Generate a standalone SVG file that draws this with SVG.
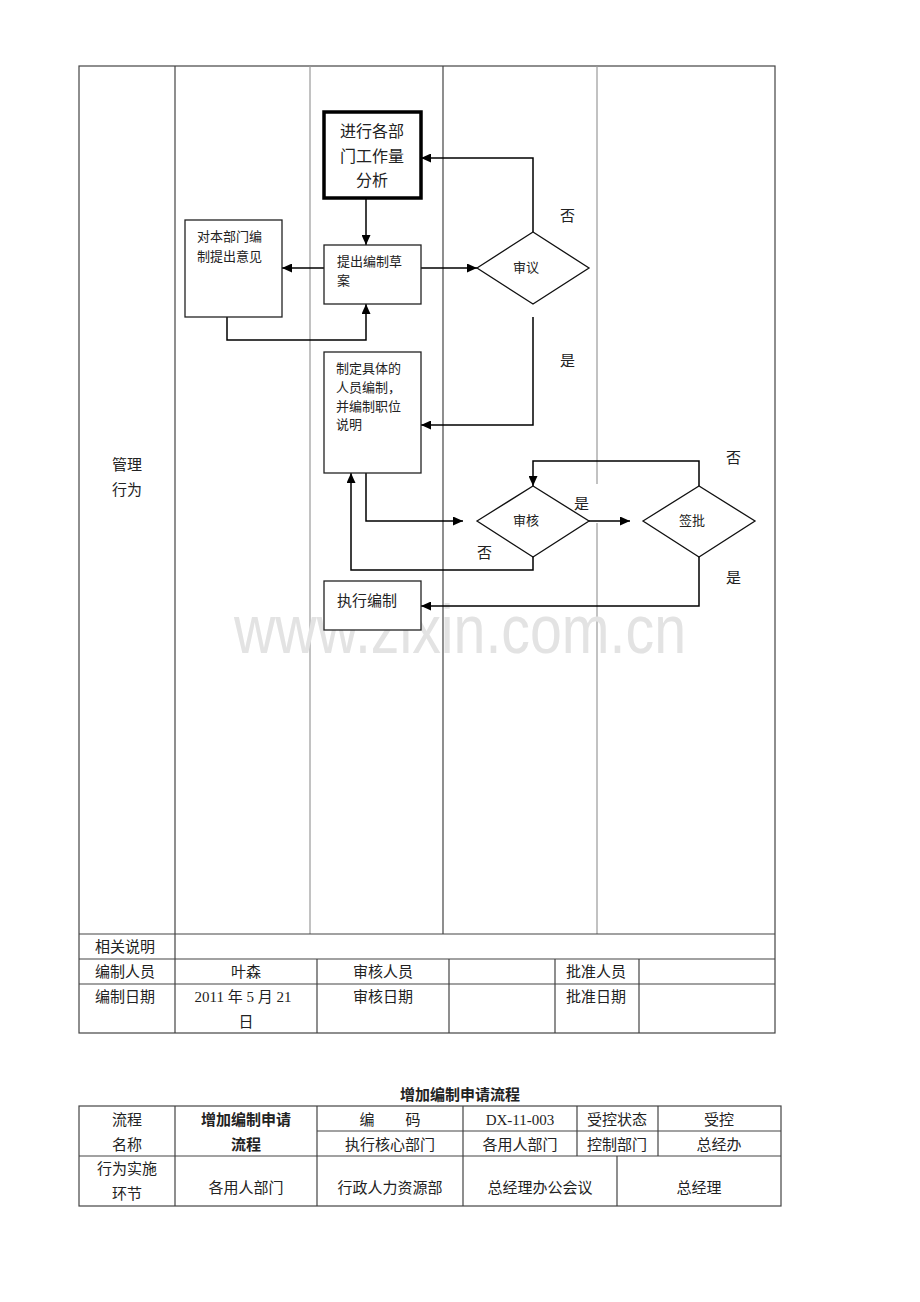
<svg xmlns="http://www.w3.org/2000/svg" width="920" height="1302" viewBox="0 0 920 1302">
<defs>
<marker id="ah" markerUnits="userSpaceOnUse" markerWidth="10" markerHeight="9" refX="10" refY="4.5" orient="auto"><path d="M0,0 L10,4.5 L0,9 z" fill="#000"/></marker>
<style>
text{font-family:"Liberation Serif","Noto Sans CJK SC",serif;fill:#222}
.t15{font-size:15px}
.t13{font-size:13px}
.t16{font-size:16px}
.c{text-anchor:middle}
.b{font-weight:bold;font-family:"Liberation Sans","Noto Sans CJK SC",sans-serif}
.grid{stroke:#444;stroke-width:1.2;fill:none}
.gl{stroke:#999;stroke-width:1.2;fill:none}
.box{fill:#fff;stroke:#222;stroke-width:1.3}
.dia{fill:#fff;stroke:#111;stroke-width:1.3}
.con{fill:none;stroke:#000;stroke-width:1.5}
</style>
</defs>
<rect width="920" height="1302" fill="#fff"/>
<g id="table-top">
<rect x="79" y="66" width="696" height="967" class="grid"/>
<line x1="175" y1="66" x2="175" y2="1033" class="grid"/>
<line x1="310" y1="66" x2="310" y2="934" class="gl"/>
<line x1="443" y1="66" x2="443" y2="934" class="grid"/>
<line x1="597" y1="66" x2="597" y2="484" class="gl"/>
<line x1="597" y1="523" x2="597" y2="934" class="gl"/>
<line x1="79" y1="934" x2="775" y2="934" class="grid"/>
<line x1="79" y1="959" x2="775" y2="959" class="grid"/>
<line x1="79" y1="984" x2="775" y2="984" class="grid"/>
<line x1="317" y1="959" x2="317" y2="1033" class="grid"/>
<line x1="449" y1="959" x2="449" y2="1033" class="grid"/>
<line x1="555" y1="959" x2="555" y2="1033" class="grid"/>
<line x1="639" y1="959" x2="639" y2="1033" class="grid"/>
<text class="t15 c" x="127" y="470">管理</text>
<text class="t15 c" x="127" y="495">行为</text>
<text class="t15" x="95" y="952">相关说明</text>
<text class="t15" x="95" y="977">编制人员</text>
<text class="t15 c" x="246" y="977">叶森</text>
<text class="t15 c" x="383" y="977">审核人员</text>
<text class="t15 c" x="596" y="977">批准人员</text>
<text class="t15" x="95" y="1002">编制日期</text>
<text class="t15 c" x="243" y="1002">2011 年 5 月 21</text>
<text class="t15 c" x="246" y="1027">日</text>
<text class="t15 c" x="383" y="1002">审核日期</text>
<text class="t15 c" x="596" y="1002">批准日期</text>
</g>
<text x="234" y="653" font-size="68" textLength="452" lengthAdjust="spacingAndGlyphs" style="font-family:'Liberation Sans',sans-serif;fill:#e3e3e3">www.zixin.com.cn</text>
<g id="connectors">
<polyline points="366,198 366,245" class="con" marker-end="url(#ah)"/>
<polyline points="324,268 282,268" class="con" marker-end="url(#ah)"/>
<polyline points="227,317 227,340 366,340 366,304" class="con" marker-end="url(#ah)"/>
<polyline points="421,268 477,268" class="con" marker-end="url(#ah)"/>
<polyline points="533,232 533,158 421,158" class="con" marker-end="url(#ah)"/>
<polyline points="533,317 533,425 421,425" class="con" marker-end="url(#ah)"/>
<polyline points="366,473 366,521 463,521" class="con" marker-end="url(#ah)"/>
<polyline points="589,521 630,521" class="con" marker-end="url(#ah)"/>
<polyline points="699,486 699,461 533,461 533,486" class="con" marker-end="url(#ah)"/>
<polyline points="533,557 533,570 351,570 351,473" class="con" marker-end="url(#ah)"/>
<polyline points="699,557 699,606 421,606" class="con" marker-end="url(#ah)"/>
<text class="t15" x="560" y="221">否</text>
<text class="t15" x="560" y="366">是</text>
<text class="t15" x="726" y="463">否</text>
<text class="t15" x="574" y="509">是</text>
<text class="t15" x="477" y="558">否</text>
<text class="t15" x="726" y="583">是</text>
</g>
<g id="n-analysis">
<rect x="324" y="112" width="97" height="86" fill="#fff" stroke="#000" stroke-width="3.5"/>
<text class="t16 c" x="372" y="137">进行各部</text>
<text class="t16 c" x="372" y="162">门工作量</text>
<text class="t16 c" x="372" y="186">分析</text>
</g>
<g id="n-opinion">
<rect x="185" y="220" width="97" height="97" class="box"/>
<text class="t13" x="197" y="241">对本部门编</text>
<text class="t13" x="197" y="261">制提出意见</text>
</g>
<g id="n-draft">
<rect x="324" y="245" width="97" height="59" class="box"/>
<text class="t13" x="337" y="266">提出编制草</text>
<text class="t13" x="337" y="285">案</text>
</g>
<g id="n-review">
<polygon points="477,268 533,232 589,268 533,304" class="dia"/>
<text class="t13 c" x="526" y="272">审议</text>
</g>
<g id="n-define">
<rect x="324" y="352" width="97" height="121" class="box"/>
<text class="t13" x="336" y="373">制定具体的</text>
<text class="t13" x="336" y="392">人员编制，</text>
<text class="t13" x="336" y="411">并编制职位</text>
<text class="t13" x="336" y="429">说明</text>
</g>
<g id="n-audit">
<polygon points="477,521 533,486 589,521 533,557" class="dia"/>
<text class="t13 c" x="526" y="525">审核</text>
</g>
<g id="n-sign">
<polygon points="643,521 699,486 755,521 699,557" class="dia"/>
<text class="t13 c" x="692" y="525">签批</text>
</g>
<g id="n-execute">
<rect x="324" y="581" width="97" height="49" class="box"/>
<text class="t15" x="337" y="606">执行编制</text>
</g>
<g id="table-bottom">
<text class="t15 c b" x="460" y="1100">增加编制申请流程</text>
<rect x="79" y="1106" width="702" height="100" class="grid"/>
<line x1="317" y1="1131" x2="781" y2="1131" class="grid"/>
<line x1="79" y1="1156" x2="781" y2="1156" class="grid"/>
<line x1="175" y1="1106" x2="175" y2="1206" class="grid"/>
<line x1="317" y1="1106" x2="317" y2="1206" class="grid"/>
<line x1="463" y1="1106" x2="463" y2="1206" class="grid"/>
<line x1="577" y1="1106" x2="577" y2="1156" class="grid"/>
<line x1="658" y1="1106" x2="658" y2="1156" class="grid"/>
<line x1="617" y1="1156" x2="617" y2="1206" class="grid"/>
<text class="t15 c" x="127" y="1125">流程</text>
<text class="t15 c" x="127" y="1150">名称</text>
<text class="t15 c b" x="246" y="1125">增加编制申请</text>
<text class="t15 c b" x="246" y="1150">流程</text>
<text class="t15 c" x="367" y="1125">编</text>
<text class="t15 c" x="413" y="1125">码</text>
<text class="t15 c" x="520" y="1125">DX-11-003</text>
<text class="t15 c" x="617" y="1125">受控状态</text>
<text class="t15 c" x="719" y="1125">受控</text>
<text class="t15 c" x="390" y="1150">执行核心部门</text>
<text class="t15 c" x="520" y="1150">各用人部门</text>
<text class="t15 c" x="617" y="1150">控制部门</text>
<text class="t15 c" x="719" y="1150">总经办</text>
<text class="t15 c" x="127" y="1174">行为实施</text>
<text class="t15 c" x="127" y="1199">环节</text>
<text class="t15 c" x="246" y="1193">各用人部门</text>
<text class="t15 c" x="390" y="1193">行政人力资源部</text>
<text class="t15 c" x="540" y="1193">总经理办公会议</text>
<text class="t15 c" x="699" y="1193">总经理</text>
</g>
</svg>
